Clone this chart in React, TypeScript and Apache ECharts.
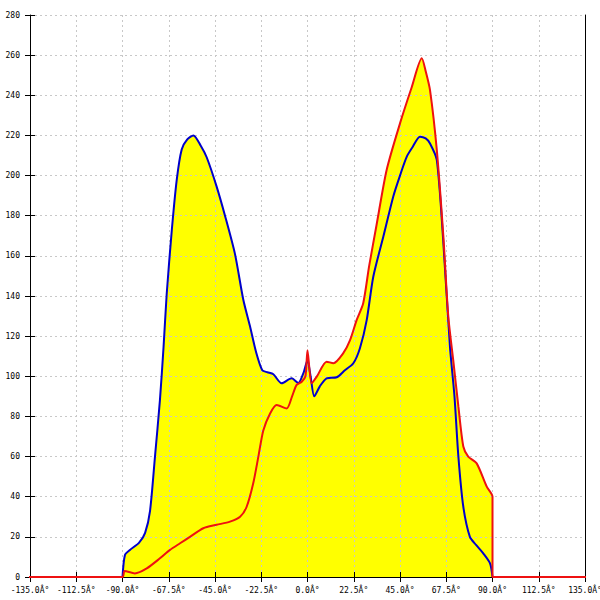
import React, { useEffect, useRef } from "react";
import * as echarts from "echarts";

// Angle (deg) / intensity samples
const blueAngles = [
  -90, -88.8, -86.4, -82, -79, -76.6, -74.2, -71.8, -70, -68.5, -66, -63.6, -61.2, -58.5, -55.5,
  -52, -49, -44.2, -40, -35.3, -31.2, -28, -25, -22, -19.5, -16.6, -12.6, -7.7, -4.5, -2, 0, 1.5,
  3.3, 6, 9.3, 14.2, 18.2, 22.3, 25.5, 28.8, 32, 36.9, 41.7, 45, 48.3, 51, 54.7, 57.5, 59.6, 62.9,
  66, 69.3, 71.5, 73.4, 75.8, 79, 82, 85.5, 88.8, 90,
];
const blueValues = [
  0, 11, 13.5, 17, 22, 33, 60, 88, 115, 141, 173, 198, 213, 218, 220,
  215, 209, 194.5, 179.5, 161, 138, 125, 112, 103, 102, 101, 96.5, 99, 96.6, 101.6, 108, 100,
  90, 95, 99, 99.5, 103, 106.5, 114, 128, 149.6, 169.6, 189.5, 200, 209.4, 214, 219.4, 218.5, 216, 207.8,
  168, 114.7, 90, 60, 35, 20, 16, 11.8, 6.8, 0,
];

const redAngles = [
  -150, -90, -89, -84, -78.2, -71.8, -66.9, -62, -57.2, -50.7, -44.2, -37.7, -32.8, -29.6, -26.4,
  -23.9, -21.5, -18.2, -15, -10.1, -7.5, -5.3, -2.8, -1, 0, 2, 4.5, 9.3, 12.6, 17.4, 20.7, 23.9,
  27.1, 30, 33.7, 38.5, 45, 50.7, 55.6, 57.5, 59.6, 62.9, 66.1, 68.5, 70.9, 73.4, 75.8, 78.2, 82.3,
  87.2, 90, 90, 150,
];
const redValues = [
  0, 0, 3, 1.8, 4.3, 9.3, 13.5, 16.8, 20, 24.3, 26, 27.6, 30, 35, 46.7,
  60, 73, 81.5, 85.7, 84, 90, 95.7, 97.3, 100, 113, 96.5, 99.8, 107.3, 106.5, 111.5, 118, 128,
  136.4, 155, 176, 202.8, 226, 244, 258.4, 252, 242.6, 212.8, 169.6, 129.7, 108, 85, 65, 60, 56.6,
  45, 40, 0, 0,
];

const xMin = -135;
const xMax = 135;
const xStep = 22.5;
const yMin = 0;
const yMax = 280;
const yStep = 20;
const degreeSuffix = "Â°";

const MONO = "'DejaVu Sans Mono', monospace";

export default function App() {
  const ref = useRef<HTMLDivElement>(null);
  useEffect(() => {
    if (!ref.current) return;
    const chart = echarts.init(ref.current, null, { renderer: "svg" });
    const blue = blueAngles.map((a, i) => [a, blueValues[i]]);
    const red = redAngles.map((a, i) => [a, redValues[i]]);
    const gridLine = { show: true, lineStyle: { color: "#c8c8c8", type: [2, 3] as any, width: 1 } };
    chart.setOption({
      animation: false,
      backgroundColor: "#ffffff",
      grid: { left: 30, right: 15, top: 15, bottom: 23, containLabel: false, outerBoundsMode: "none" } as any,
      xAxis: [
        {
          type: "value",
          min: xMin,
          max: xMax,
          interval: xStep,
          position: "bottom",
          z: 2,
          axisLine: { show: true, onZero: false, lineStyle: { color: "#000", width: 1 } },
          axisTick: { show: true, inside: false, length: 5, lineStyle: { color: "#000" } },
          axisLabel: {
            show: true,
            margin: 9,
            fontFamily: MONO,
            fontSize: 8,
            color: "#000",
            formatter: (v: number) => v.toFixed(1) + degreeSuffix,
          },
          splitLine: gridLine,
        },
        {
          type: "value",
          min: xMin,
          max: xMax,
          interval: xStep,
          position: "bottom",
          z: 2,
          axisLine: { show: false, onZero: false },
          axisTick: { show: true, inside: true, length: 5, lineStyle: { color: "#000" } },
          axisLabel: { show: false },
          splitLine: { show: false },
        },
      ],
      yAxis: [
        {
          type: "value",
          min: yMin,
          max: yMax,
          interval: yStep,
          position: "left",
          z: 2,
          axisLine: { show: true, onZero: false, lineStyle: { color: "#000", width: 1 } },
          axisTick: { show: true, inside: false, length: 5, lineStyle: { color: "#000" } },
          axisLabel: { show: true, margin: 10, fontFamily: MONO, fontSize: 8, color: "#000" },
          splitLine: gridLine,
        },
        {
          type: "value",
          min: yMin,
          max: yMax,
          interval: yStep,
          position: "left",
          z: 2,
          axisLine: { show: false, onZero: false },
          axisTick: { show: true, inside: true, length: 5, lineStyle: { color: "#000" } },
          axisLabel: { show: false },
          splitLine: { show: false },
        },
        {
          type: "value",
          min: yMin,
          max: yMax,
          interval: yStep,
          position: "right",
          z: 2,
          axisLine: { show: true, onZero: false, lineStyle: { color: "#000", width: 1 } },
          axisTick: { show: false },
          axisLabel: { show: false },
          splitLine: { show: false },
        },
      ],
      series: [
        {
          type: "line",
          z: 1,
          data: blue,
          smooth: 0.25,
          showSymbol: false,
          lineStyle: { width: 0, opacity: 0 },
          areaStyle: { color: "#ffff00", opacity: 1 },
          silent: true,
        },
        {
          type: "line",
          z: 1,
          data: red,
          smooth: 0.25,
          showSymbol: false,
          clip: false,
          lineStyle: { width: 0, opacity: 0 },
          areaStyle: { color: "#ffff00", opacity: 1 },
          silent: true,
        },
        {
          type: "line",
          z: 3,
          data: blue,
          smooth: 0.25,
          showSymbol: false,
          lineStyle: { color: "#0000cc", width: 2 },
          silent: true,
        },
        {
          type: "line",
          z: 3,
          data: red,
          smooth: 0.25,
          showSymbol: false,
          clip: false,
          lineStyle: { color: "#ee1111", width: 2 },
          silent: true,
        },
      ],
    });
    return () => chart.dispose();
  }, []);
  return (
    <div
      ref={ref}
      style={{ position: "fixed", left: 0, top: 0, width: 600, height: 600, background: "#fff" }}
    />
  );
}
